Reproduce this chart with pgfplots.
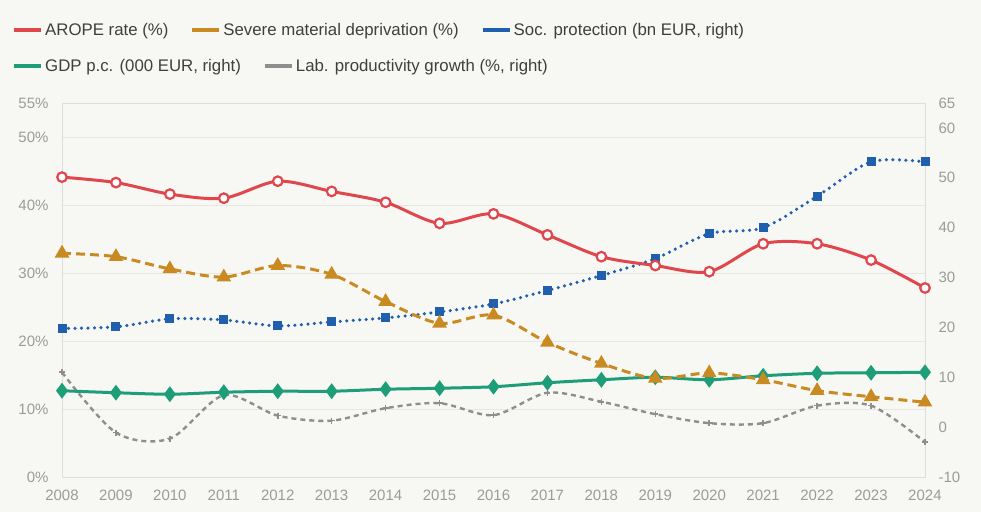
\documentclass[border=0pt]{standalone}
\usepackage{pgfplots}
\pgfplotsset{compat=1.18}
\usepackage{fontspec}
\setmainfont{Liberation Sans}
\definecolor{bg}{HTML}{F7F7F4}
\definecolor{gridc}{HTML}{E6E6E3}
\definecolor{axisc}{HTML}{DDDDDA}
\definecolor{ticktext}{HTML}{9B9B9B}
\definecolor{legtext}{HTML}{3F3F3F}
\definecolor{cRed}{HTML}{E0474C}
\definecolor{cOrange}{HTML}{C98A22}
\definecolor{cBlue}{HTML}{1F5FAD}
\definecolor{cGreen}{HTML}{1E9E78}
\definecolor{cGrey}{HTML}{8E8E8E}

\pgfplotstableread{
year arope smd
2008 44.1 32.9
2009 43.3 32.4
2010 41.6 30.6
2011 41.0 29.4
2012 43.5 31.1
2013 42.0 29.8
2014 40.4 25.8
2015 37.3 22.6
2016 38.7 23.8
2017 35.6 19.8
2018 32.4 16.7
2019 31.1 14.5
2020 30.2 15.3
2021 34.3 14.3
2022 34.3 12.7
2023 31.9 11.8
2024 27.8 11.0
}\lefttab

\pgfplotstableread{
year soc gdp lab
2008 19.8 7.3 11.0
2009 20.1 6.9 -1.1
2010 21.7 6.6 -2.3
2011 21.5 7.0 6.4
2012 20.3 7.2 2.3
2013 21.1 7.2 1.3
2014 21.9 7.6 3.8
2015 23.1 7.8 4.8
2016 24.7 8.1 2.4
2017 27.4 8.9 6.9
2018 30.4 9.5 5.1
2019 33.8 10.0 2.6
2020 38.8 9.5 0.8
2021 40.0 10.3 0.8
2022 46.3 10.8 4.3
2023 53.2 10.9 4.3
2024 53.2 11.0 -3.0
}\righttab

\begin{document}
\begin{tikzpicture}
\useasboundingbox (0,0) rectangle (981pt,512pt);
\fill[bg] (0,0) rectangle (981pt,512pt);
\pgfplotsset{
  base/.style={
    at={(62pt,35pt)}, anchor=south west, scale only axis,
    width=863pt, height=374pt, xmin=2008, xmax=2024,
    clip=false, major tick length=0pt,
    tick label style={font=\fontsize{15}{18}\selectfont, text=ticktext},
    /pgf/number format/assume math mode=true,
    xtick={2008,2009,...,2024},
    xticklabels={2008,2009,2010,2011,2012,2013,2014,2015,2016,2017,2018,2019,2020,2021,2022,2023,2024},
    xticklabel style={yshift=-9pt},
    legend image code/.code={\draw[#1, solid, line width=4pt] (0pt,0pt) -- (27pt,0pt);},
    legend cell align=left,
  },
  leg/.style={
    legend style={draw=none, fill=none, legend columns=-1, inner sep=0pt,
      at={(axis description cs:0,1)}, anchor=west, xshift=-50pt, yshift=#1,
      font=\fontsize{16.8}{19}\selectfont, text=legtext,
      /tikz/every even column/.append style={column sep=20pt}},
  },
}
% grid axis
\begin{axis}[base, ymin=0, ymax=55,
  ytick={0,10,20,30,40,50,55},
  yticklabels={0\%,10\%,20\%,30\%,40\%,50\%,55\%},
  yticklabel style={xshift=-10pt},
  ytick pos=left, xtick pos=bottom,
  ymajorgrids, grid style={color=gridc, line width=0.9pt},
  axis line style={color=axisc, line width=0.9pt}]
\end{axis}
% right axis
\begin{axis}[base, ymin=-10, ymax=65,
  ytick={-10,0,10,20,30,40,50,60,65},
  axis y line*=right, hide x axis, axis line style={draw=none},
  yticklabel style={xshift=10pt},
  leg=37pt]
\addplot[cGrey, line width=2.4pt, dash pattern=on 5pt off 4pt, smooth,
  mark=+, mark size=3pt, mark options={solid, line width=1.6pt}, forget plot]
  table[x=year, y=lab] {\righttab};
\addplot[cGreen, line width=3pt, smooth,
  mark=diamond*, mark size=5.5pt, mark options={solid}, forget plot]
  table[x=year, y=gdp] {\righttab};
\addplot[cBlue, line width=3.5pt, line cap=round, dash pattern=on 0pt off 6.5pt, smooth,
  mark=square*, mark size=4pt, mark options={solid, line width=1pt}, forget plot]
  table[x=year, y=soc] {\righttab};
\addlegendimage{cGreen}\addlegendentry{GDP p.c. (000 EUR, right)}
\addlegendimage{cGrey}\addlegendentry{Lab. productivity growth (\%, right)}
\end{axis}
% left data axis
\begin{axis}[base, ymin=0, ymax=55, hide x axis, hide y axis, leg=73pt]
\addplot[cOrange, line width=3pt, dash pattern=on 9pt off 5pt, smooth,
  mark=triangle*, mark size=5.5pt, mark options={solid}, forget plot]
  table[x=year, y=smd] {\lefttab};
\addplot[cRed, line width=3pt, smooth,
  mark=*, mark size=4.8pt, mark options={solid, fill=white, draw=cRed, line width=2.2pt}, forget plot]
  table[x=year, y=arope] {\lefttab};
\addlegendimage{cRed}\addlegendentry{AROPE rate (\%)}
\addlegendimage{cOrange}\addlegendentry{Severe material deprivation (\%)}
\addlegendimage{cBlue}\addlegendentry{Soc. protection (bn EUR, right)}
\end{axis}
\end{tikzpicture}
\end{document}
